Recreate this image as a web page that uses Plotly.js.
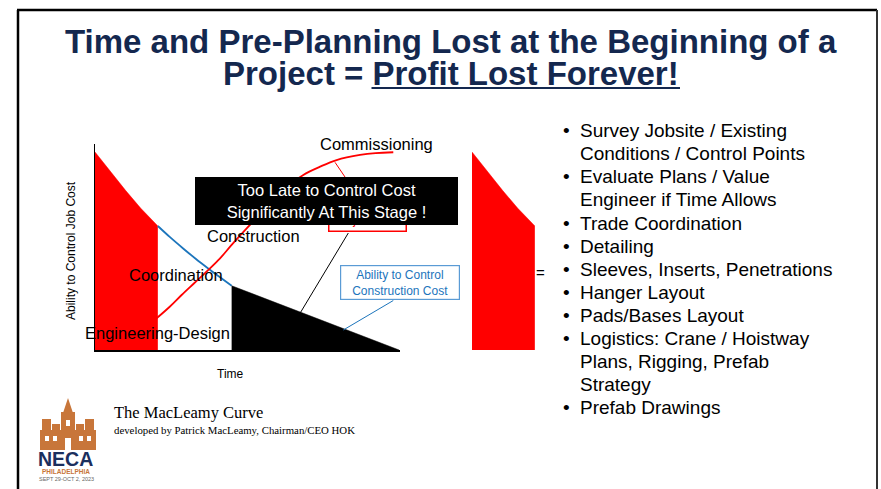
<!DOCTYPE html>
<html>
<head>
<meta charset="utf-8">
<script src="https://cdn.plot.ly/plotly-3.0.1.min.js"></script>
<style>html,body{margin:0;padding:0;background:#fff;}#chart{width:881px;height:489px;}</style>
</head>
<body>
<div id="chart"></div>
<script>
// ---------------- DATA ----------------
// Ability to control construction cost (MacLeamy curve), time 0..100
const timeAbility = [0, 5, 10, 15, 20.6, 24.5, 28.9, 33, 37.1, 41, 44.8, 55, 67.2, 81.3, 90, 99.7];
const ability     = [96.1, 86.6, 77.5, 68.8, 60.2, 54.9, 49.3, 44.3, 39.6, 35.3, 31.2, 25.4, 18.4, 10.1, 5.2, 0];
// Project cost curve
const timeCost    = [20.2, 24.5, 28.4, 32.5, 37.1, 41, 44.8, 50.8, 57, 63, 68.3, 73.8, 79.2, 86.9, 92, 97.8];
const projectCost = [15.4, 21.0, 26.7, 32.4, 38.8, 44.5, 51.0, 60.7, 70.4, 79.1, 85.0, 89.0, 92.2, 94.7, 95.6, 96.0];
// Phase boundaries (time)
const designEnd = 20.6;         // end of pre-planning (red) zone
const constructionStart = 44.8; // start of "too late" (black) zone
// Labels
const phaseLabels = ["Engineering-Design", "Coordination", "Construction", "Commissioning"];
const axisLabels = {x: "Time", y: "Ability to Control Job Cost"};
const callouts = ["Project Cost", "Ability to Control<br>Construction Cost", "Too Late to Control Cost<br>Significantly At This Stage !"];
const bulletLines = [
  ["Survey Jobsite / Existing", true],
  ["Conditions / Control Points", false],
  ["Evaluate Plans / Value", true],
  ["Engineer if Time Allows", false],
  ["Trade Coordination", true],
  ["Detailing", true],
  ["Sleeves, Inserts, Penetrations", true],
  ["Hanger Layout", true],
  ["Pads/Bases Layout", true],
  ["Logistics: Crane / Hoistway", true],
  ["Plans, Rigging, Prefab", false],
  ["Strategy", false],
  ["Prefab Drawings", true]
];
const titleLines = ["Time and Pre-Planning Lost at the Beginning of a", "Project = Profit Lost Forever!"];
const footerLines = ["The MacLeamy Curve", "developed by Patrick MacLeamy, Chairman/CEO HOK"];
const logoLines = ["NECA", "PHILADELPHIA", "SEPT 29-OCT 2, 2023"];

// ---------------- HELPERS ----------------
const W = 881, H = 489;
const fx = p => p / W;
const fy = p => 1 - p / H;
function sliceBetween(xs, ys, lo, hi) {
  const ox = [], oy = [];
  xs.forEach((v, i) => { if (v >= lo - 1e-9 && v <= hi + 1e-9) { ox.push(v); oy.push(ys[i]); } });
  return {x: ox, y: oy};
}
const SANS = "Liberation Sans, Arial, sans-serif";
const SERIF = "Liberation Serif, Times New Roman, serif";
function ann(text, x, y, o) {
  return Object.assign({text: text, xref: 'paper', yref: 'paper', x: fx(x), y: fy(y),
    xanchor: 'center', yanchor: 'middle', showarrow: false,
    font: {family: SANS, size: 16.5, color: '#000'}}, o || {});
}

const RED = '#ff0000', BLUE = '#1c75bc', NAVY = '#14284f', ORANGE = '#c8763a';

const redPart = sliceBetween(timeAbility, ability, 0, designEnd);
const bluePart = sliceBetween(timeAbility, ability, designEnd, constructionStart);
const blackPart = sliceBetween(timeAbility, ability, constructionStart, 100);

const traces = [
  {x: redPart.x, y: redPart.y, type: 'scatter', mode: 'lines', fill: 'tozeroy',
   fillcolor: RED, line: {color: RED, width: 0.5}, xaxis: 'x', yaxis: 'y'},
  {x: redPart.x, y: redPart.y, type: 'scatter', mode: 'lines', fill: 'tozeroy',
   fillcolor: RED, line: {color: RED, width: 0.5}, xaxis: 'x2', yaxis: 'y'},
  {x: bluePart.x, y: bluePart.y, type: 'scatter', mode: 'lines', line: {color: BLUE, width: 1.8, shape: 'spline'}},
  {x: blackPart.x, y: blackPart.y, type: 'scatter', mode: 'lines', fill: 'tozeroy',
   fillcolor: '#000', line: {color: '#000', width: 0.5}},
  {x: timeCost, y: projectCost, type: 'scatter', mode: 'lines', line: {color: RED, width: 1.8, shape: 'spline'}}
];

const annotations = [];
// axis labels
annotations.push(ann(axisLabels.x, 230.7, 374, {font: {family: SANS, size: 12, color: '#000'}}));
annotations.push(ann(axisLabels.y, 71, 251, {textangle: -90, font: {family: SANS, size: 12, color: '#000'}}));
// phase labels
const phasePos = [[157.7, 333.3], [175.7, 275], [253.3, 235.7], [376, 144]];
phaseLabels.forEach((t, i) => annotations.push(ann(t, phasePos[i][0], phasePos[i][1])));
// Project cost (mostly hidden behind the black box)
annotations.push(ann(callouts[0], 367.3, 220, {font: {family: SANS, size: 12, color: RED},
  bordercolor: RED, borderwidth: 1.5, bgcolor: '#fff', width: 76, height: 22, borderpad: 0}));
// Too late black box
annotations.push(ann(callouts[2], 326, 201, {font: {family: SANS, size: 16.5, color: '#fff'},
  bgcolor: '#000', width: 263, height: 48, borderpad: 0, borderwidth: 0}));
// blue callout
annotations.push(ann(callouts[1], 399.7, 282.2, {font: {family: SANS, size: 12, color: BLUE},
  bordercolor: '#5a9bd5', borderwidth: 1.2, bgcolor: '#fff', width: 118, height: 33, borderpad: 0}));
// equals
annotations.push(ann("=", 540.7, 272, {font: {family: SANS, size: 15, color: '#000'}}));
// bullets
bulletLines.forEach((b, i) => {
  const y = 130.7 + i * 23.08;
  if (b[1]) annotations.push(ann("•", 566, y, {font: {family: SANS, size: 19, color: '#000'}}));
  annotations.push(ann(b[0], 578, y, {xanchor: 'left', font: {family: SANS, size: 19, color: '#000'}}));
});
// title
annotations.push(ann("<b>" + titleLines[0] + "</b>", 450.5, 42, {font: {family: SANS, size: 33, color: NAVY}}));
annotations.push(ann("<b>" + titleLines[1] + "</b>", 451, 73.5, {font: {family: SANS, size: 33, color: NAVY}}));
// footer
annotations.push(ann(footerLines[0], 112, 412.5, {xanchor: 'left', font: {family: SERIF, size: 16.5, color: '#000'}}));
annotations.push(ann(footerLines[1], 112, 430, {xanchor: 'left', font: {family: SERIF, size: 10.8, color: '#000'}}));
// logo text
annotations.push(ann("<b>" + logoLines[0] + "</b>", 65, 458.5, {font: {family: SANS, size: 19.5, color: '#1b2f5e'}}));
annotations.push(ann("<b>" + logoLines[1] + "</b>", 66, 471, {font: {family: SANS, size: 6.5, color: ORANGE}}));
annotations.push(ann(logoLines[2], 66, 478.5, {font: {family: SANS, size: 5.5, color: '#666'}}));

function line(x0, y0, x1, y1, color, w) {
  return {type: 'line', xref: 'paper', yref: 'paper', x0: fx(x0), y0: fy(y0), x1: fx(x1), y1: fy(y1),
    line: {color: color, width: w}, layer: 'above'};
}
function rect(x0, y0, x1, y1, color) {
  return {type: 'rect', xref: 'paper', yref: 'paper', x0: fx(x0), y0: fy(y0), x1: fx(x1), y1: fy(y1),
    fillcolor: color, line: {width: 0}, layer: 'above'};
}
const shapes = [
  // slide frame
  line(18, 10, 18, 489, '#000', 2.5),
  line(17, 10, 877, 10, '#000', 2.5),
  line(877, 10, 877, 489, '#333', 2),
  // callout connectors
  line(335, 162.3, 345, 177, RED, 1),
  line(300, 313.3, 348.3, 233, '#000', 1),
  line(343.3, 330, 393.3, 300.5, BLUE, 1),
  // title underline
  line(371.5, 88, 680, 88, NAVY, 2.2),
  // logo building
  rect(40, 430, 96, 450, ORANGE),
  rect(61, 412, 75, 450, ORANGE),
  {type: 'path', xref: 'paper', yref: 'paper', path: 'M' + fx(63) + ',' + fy(413) + ' L' + fx(68) + ',' + fy(398) + ' L' + fx(73) + ',' + fy(413) + ' Z',
   fillcolor: ORANGE, line: {width: 0}, layer: 'above'},
  rect(42, 419, 51, 431, ORANGE),
  rect(85, 419, 94, 431, ORANGE),
  rect(52, 424, 60, 431, ORANGE),
  rect(76, 424, 84, 431, ORANGE),
  rect(45, 436, 49, 441, '#fff'), rect(53, 436, 57, 441, '#fff'), rect(79, 436, 83, 441, '#fff'), rect(87, 436, 91, 441, '#fff'),
  rect(66, 420, 70, 426, '#fff'), rect(65, 438, 71, 450, '#fff')
];

const layout = {
  width: W, height: H,
  margin: {l: 0, r: 0, t: 0, b: 0, pad: 0},
  paper_bgcolor: '#fff', plot_bgcolor: 'rgba(0,0,0,0)',
  showlegend: false, hovermode: false,
  xaxis: {domain: [fx(95), fx(400)], range: [0, 100], showline: true, linecolor: '#000', linewidth: 1.5,
    showgrid: false, zeroline: false, showticklabels: false, ticks: '', layer: 'below traces', fixedrange: true},
  xaxis2: {domain: [fx(472), fx(777)], range: [0, 100], visible: false, anchor: 'y', fixedrange: true},
  yaxis: {domain: [fy(350), fy(144)], range: [0, 100], showline: true, linecolor: '#000', linewidth: 1.5,
    showgrid: false, zeroline: false, showticklabels: false, ticks: '', layer: 'below traces', fixedrange: true},
  annotations: annotations,
  shapes: shapes
};

Plotly.newPlot('chart', traces, layout, {staticPlot: true, displayModeBar: false});
</script>
</body>
</html>
